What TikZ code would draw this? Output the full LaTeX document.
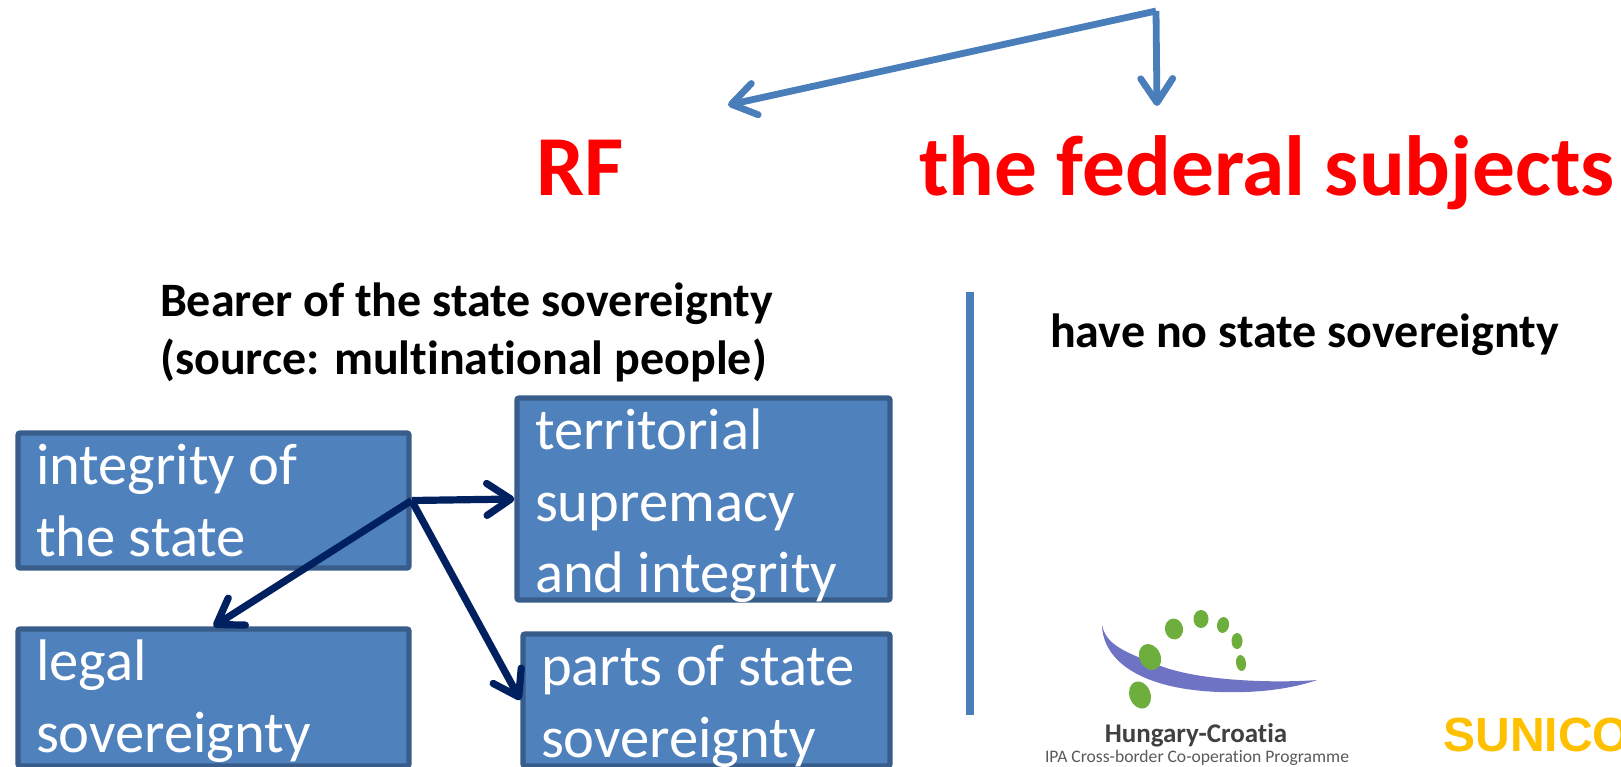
\documentclass[tikz,border=0pt]{standalone}
\usepackage{fontspec}
\setmainfont[Ligatures=NoCommon]{Carlito}
\newfontfamily\sunicofont{Liberation Sans}
\usepackage{xcolor}
\usepackage{tikz}
\usetikzlibrary{arrows.meta}

\definecolor{linkblue}{HTML}{4A7EBB}
\definecolor{boxblue}{HTML}{4F81BD}
\definecolor{boxedge}{HTML}{385D8A}
\definecolor{darknavy}{HTML}{002060}
\definecolor{logogreen}{HTML}{6DAE3C}
\definecolor{logopurple}{HTML}{6F73C4}
\definecolor{sunicogold}{HTML}{FFC000}

\newcommand{\boxtext}[3]{\parbox[c][#2][t]{#1}{\raggedright\vspace*{-2pt}\strut #3}}

\begin{document}
\begin{tikzpicture}[x=0.5pt,y=-0.5pt]

\tikzstyle{statebox} = [rectangle, rounded corners=1pt, draw=boxedge, fill=boxblue, line width=2.6pt, inner xsep=9pt, inner ysep=3pt, text=white, font=\fontsize{29.3}{35.6}\selectfont]
\tikzstyle{heading} = [anchor=base, text=red, font=\bfseries\fontsize{42.7}{50}\selectfont]
\tikzstyle{note} = [anchor=base west, font=\bfseries\fontsize{24}{28}\selectfont]
\tikzstyle{toparrow} = [draw=linkblue, line width=3.4pt, -{Straight Barb[round,length=12pt,width=16pt]}]
\tikzstyle{boxarrow} = [draw=darknavy, line width=3.6pt, -{Straight Barb[round,length=12pt,width=16pt]}]

\useasboundingbox (0,0) rectangle (1621,766);

% headings and the two links above them
\node (rf) [heading] at (580,195) {RF};
\node (subjects) [heading] at (1267,195) {the federal subjects};
\coordinate (apex) at (1156,11);
\coordinate (rftip) at (728,105);
\coordinate (subjectstip) at (1157,106);
\draw [toparrow] (apex) -- (rftip);
\draw [toparrow] (apex) -- (subjectstip);

% left column
\node (bearer) [note] at (153,316) {Bearer of the state sovereignty};
\node (source) [note] at (153,374) {(source: multinational people)};
\node (integrity) [statebox] at (213.5,500.5) {\boxtext{177.5pt}{61.5pt}{integrity of\\the state}};
\node (legal) [statebox] at (213.5,697.5) {\boxtext{177.5pt}{62.5pt}{legal\\sovereignty}};
\node (territorial) [statebox] at (703.5,499) {\boxtext{168.5pt}{95pt}{territorial\\supremacy\\and integrity}};
\node (parts) [statebox] at (706.5,700) {\boxtext{165.5pt}{60pt}{parts of state\\sovereignty}};

\draw [boxarrow] (integrity.east) -- (territorial.west);
\draw [boxarrow] (integrity.east) -- (legal.north);
\draw [boxarrow] (integrity.east) -- (parts.west);

% divider
\coordinate (dividertop) at (970,292);
\coordinate (dividerend) at (970,715);
\draw [linkblue, line width=4pt] (dividertop) -- (dividerend);

% right column
\node (nosovereignty) [note] at (1043,347) {have no state sovereignty};

% logo
\fill [logopurple] (1102,625) .. controls (1103,665) and (1150,695) .. (1245,692) .. controls (1275,691) and (1300,686) .. (1317,680) .. controls (1280,683) and (1200,682) .. (1158,665) .. controls (1125,652) and (1106,645) .. (1102,625) -- cycle;
\fill [logogreen, rotate around={20:(1140,695)}] (1140,695) ellipse (10.5 and 14);
\fill [logogreen, rotate around={25:(1150,657)}] (1150,657) ellipse (10.5 and 13.5);
\fill [logogreen, rotate around={10:(1174,629)}] (1174,629) ellipse (9 and 10.5);
\fill [logogreen] (1201,619) ellipse (7.5 and 9);
\fill [logogreen, rotate around={-10:(1223,625)}] (1223,625) ellipse (6 and 8);
\fill [logogreen] (1237,641) ellipse (5.5 and 8);
\fill [logogreen, rotate around={8:(1241,663)}] (1241,663) ellipse (5 and 8);
\node (hungary) [anchor=base, text=black!75, font=\bfseries\fontsize{13.5}{15}\selectfont] at (1196,742) {Hungary-Croatia};
\node (ipa) [anchor=base, text=black!65, font=\fontsize{8.8}{10}\selectfont] at (1197,762) {IPA Cross-border Co-operation Programme};
\node (sunico) [anchor=base west, inner sep=0pt, text=sunicogold, font=\sunicofont\bfseries\fontsize{24}{28}\selectfont] at (1443,751) {SUNICO};

\end{tikzpicture}
\end{document}
